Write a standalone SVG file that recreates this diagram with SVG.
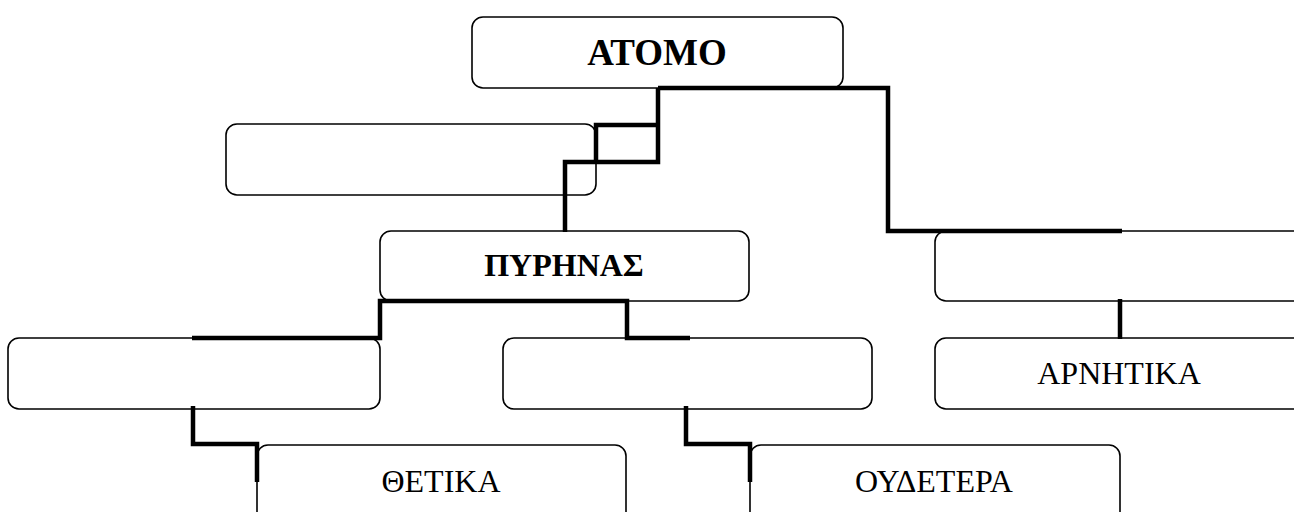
<svg xmlns="http://www.w3.org/2000/svg" width="1294" height="512" viewBox="0 0 1294 512">
<style>
.box{fill:#fff;stroke:#000;stroke-width:1.6}
.lbl{font-family:"Liberation Serif","Times New Roman",serif;fill:#000;text-anchor:middle}
.b{font-weight:bold}
.conn{fill:none;stroke:#000;stroke-width:4.5;stroke-linecap:butt;stroke-linejoin:miter}
</style>
<rect width="1294" height="512" fill="#fff"/>
<g id="atomo"><rect class="box" x="472" y="17" width="371" height="71" rx="11"/><text class="lbl b" x="657" y="65" font-size="37">ΑΤΟΜΟ</text></g>
<g id="empty1"><rect class="box" x="226" y="124" width="370" height="71" rx="11"/></g>
<g id="pyrinas"><rect class="box" x="380" y="231" width="369" height="70" rx="11"/><text class="lbl b" x="564" y="276" font-size="32">ΠΥΡΗΝΑΣ</text></g>
<g id="empty2"><rect class="box" x="935" y="231" width="370" height="70" rx="11"/></g>
<g id="empty3"><rect class="box" x="8" y="338" width="372" height="71" rx="11"/></g>
<g id="empty4"><rect class="box" x="503" y="338" width="369" height="71" rx="11"/></g>
<g id="arnitika"><rect class="box" x="935" y="338" width="370" height="71" rx="11"/><text class="lbl" x="1119" y="384" font-size="32">ΑΡΝΗΤΙΚΑ</text></g>
<g id="thetika"><rect class="box" x="257" y="445" width="369" height="80" rx="11"/><text class="lbl" x="441" y="492" font-size="32">ΘΕΤΙΚΑ</text></g>
<g id="oudetera"><rect class="box" x="750" y="445" width="370" height="80" rx="11"/><text class="lbl" x="934" y="492" font-size="32">ΟΥΔΕΤΕΡΑ</text></g>
<g id="connectors">
<path class="conn" d="M658 88 H888 V231 H1122"/>
<path class="conn" d="M658 88 V162 H565 V232"/>
<path class="conn" d="M658 125 H596 V162"/>
<path class="conn" d="M1120 299 V339"/>
<path class="conn" d="M192 338 H380 V301 H627 V338 H690"/>
<path class="conn" d="M193 406 V444 H257 V482"/>
<path class="conn" d="M686 406 V444 H750 V482"/>
</g>
</svg>
